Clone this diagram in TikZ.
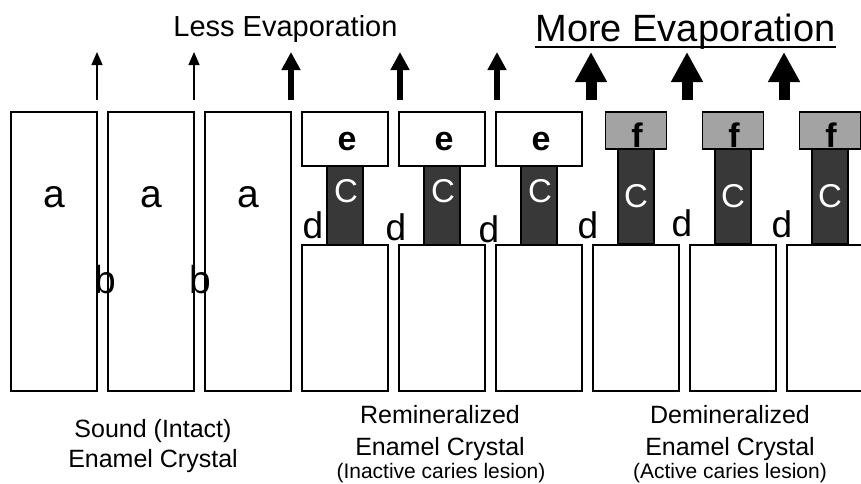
\documentclass[tikz,border=0pt]{standalone}
\usepackage{fontspec}
\setmainfont{Liberation Sans}
\usetikzlibrary{arrows.meta}
\definecolor{core}{HTML}{383838}
\definecolor{shell}{HTML}{A3A3A3}

\begin{document}
\begin{tikzpicture}[x=1pt,y=-1pt,line width=1.4pt,
  crystal/.style={draw,fill=white,inner sep=0,outer sep=0,minimum width=86pt},
  corecol/.style={draw,fill=core,inner sep=0,outer sep=0,minimum width=36pt},
  capbox/.style={draw,fill=white,inner sep=0,outer sep=0,minimum width=86pt,minimum height=54pt},
  shellbox/.style={draw,fill=shell,inner sep=0,outer sep=0,minimum width=61pt,minimum height=37pt},
  lbl/.style={inner sep=0,anchor=base,font=\fontsize{39}{40}\selectfont},
  dlbl/.style={inner sep=0,anchor=base,font=\fontsize{37}{40}\selectfont},
  boldlbl/.style={inner sep=0,anchor=base,font=\fontsize{34}{36}\selectfont\bfseries},
  corelbl/.style={inner sep=0,anchor=base,text=white,font=\fontsize{33}{34}\selectfont},
  caption/.style={inner sep=0,anchor=base,font=\fontsize{25}{30}\selectfont},
  subcaption/.style={inner sep=0,anchor=base,font=\fontsize{21}{24}\selectfont},
  thinarrow/.style={line width=1.3pt,-{Triangle[length=13pt,width=11pt]}},
  midarrow/.style={line width=6.5pt,-{Triangle[length=18pt,width=18pt]}},
  bigarrow/.style={line width=11pt,-{Triangle[length=30pt,width=30pt]}}]
\useasboundingbox (0,0) rectangle (861,483);
\clip (0,0) rectangle (861,483);

% sound enamel crystals
\foreach \k in {1,2,3}{
  \node[crystal,minimum height=279pt] (s\k) at ({54+97*(\k-1)},251.5) {};
  \node[lbl] (sa\k) at ({54+97*(\k-1)},207) {a};
}
\node[lbl] (b1) at (105,293) {b};
\node[lbl] (b2) at (200,293) {b};

% remineralized crystals: core column under a white cap
\foreach \k in {4,5,6}{
  \node[corecol,minimum height=79pt] (c\k) at ({54+97*(\k-1)},205.5) {};
  \node[crystal,minimum height=146pt] (l\k) at ({54+97*(\k-1)},318) {};
  \node[capbox] (e\k) at ({54+97*(\k-1)},139) {};
  \node[boldlbl] (et\k) at ({54+97*(\k-1)+2},150) {e};
  \node[corelbl] (ct\k) at ({54+97*(\k-1)+1},202) {C};
}
% demineralized crystals: core column under a grey shell
\foreach \k in {7,8,9}{
  \node[corecol,minimum height=95pt] (c\k) at ({54+97*(\k-1)},196.5) {};
  \node[crystal,minimum height=146pt] (l\k) at ({54+97*(\k-1)},318) {};
  \node[shellbox] (f\k) at ({54+97*(\k-1)},130.5) {};
  \node[boldlbl] (ft\k) at ({54+97*(\k-1)+1},147) {f};
  \node[corelbl] (ct\k) at ({54+97*(\k-1)},207) {C};
}

% gap labels
\node[dlbl] (d1) at (313,238) {d};
\node[dlbl] (d2) at (396,240) {d};
\node[dlbl] (d3) at (489,242) {d};
\node[dlbl] (d4) at (588,238) {d};
\node[dlbl] (d5) at (682,236) {d};
\node[dlbl] (d6) at (782,237) {d};

% evaporation arrows
\foreach \n/\x in {1/97,2/194,3/291,4/400,5/497,6/591,7/687,8/784}{
  \coordinate (v\n) at (\x,100);
  \coordinate (w\n) at (\x,52);
}
\foreach \n in {1,2}{\draw[thinarrow] (v\n) -- (w\n);}
\foreach \n in {3,4,5}{\draw[midarrow] (v\n) -- (w\n);}
\foreach \n in {6,7,8}{\draw[bigarrow] (v\n) -- (w\n);}

% headings
\node[inner sep=0,anchor=base,font=\fontsize{29}{32}\selectfont] (less) at (285.5,36) {Less Evaporation};
\node[inner sep=0,anchor=base,font=\fontsize{38}{42}\selectfont] (more) at (685.5,41) {More Evaporation};
\draw[line width=2.4pt] ([yshift=-6pt]more.base west) -- ([yshift=-6pt]more.base east);

% captions
\node[caption] (cap1a) at (153,437) {Sound (Intact)};
\node[caption] (cap1b) at (153,467) {Enamel Crystal};
\node[caption] (cap2a) at (440,423) {Remineralized};
\node[caption] (cap2b) at (440,455) {Enamel Crystal};
\node[subcaption] (cap2c) at (441,478) {(Inactive caries lesion)};
\node[caption] (cap3a) at (730,423) {Demineralized};
\node[caption] (cap3b) at (730,455) {Enamel Crystal};
\node[subcaption] (cap3c) at (730,478) {(Active caries lesion)};
\end{tikzpicture}
\end{document}
